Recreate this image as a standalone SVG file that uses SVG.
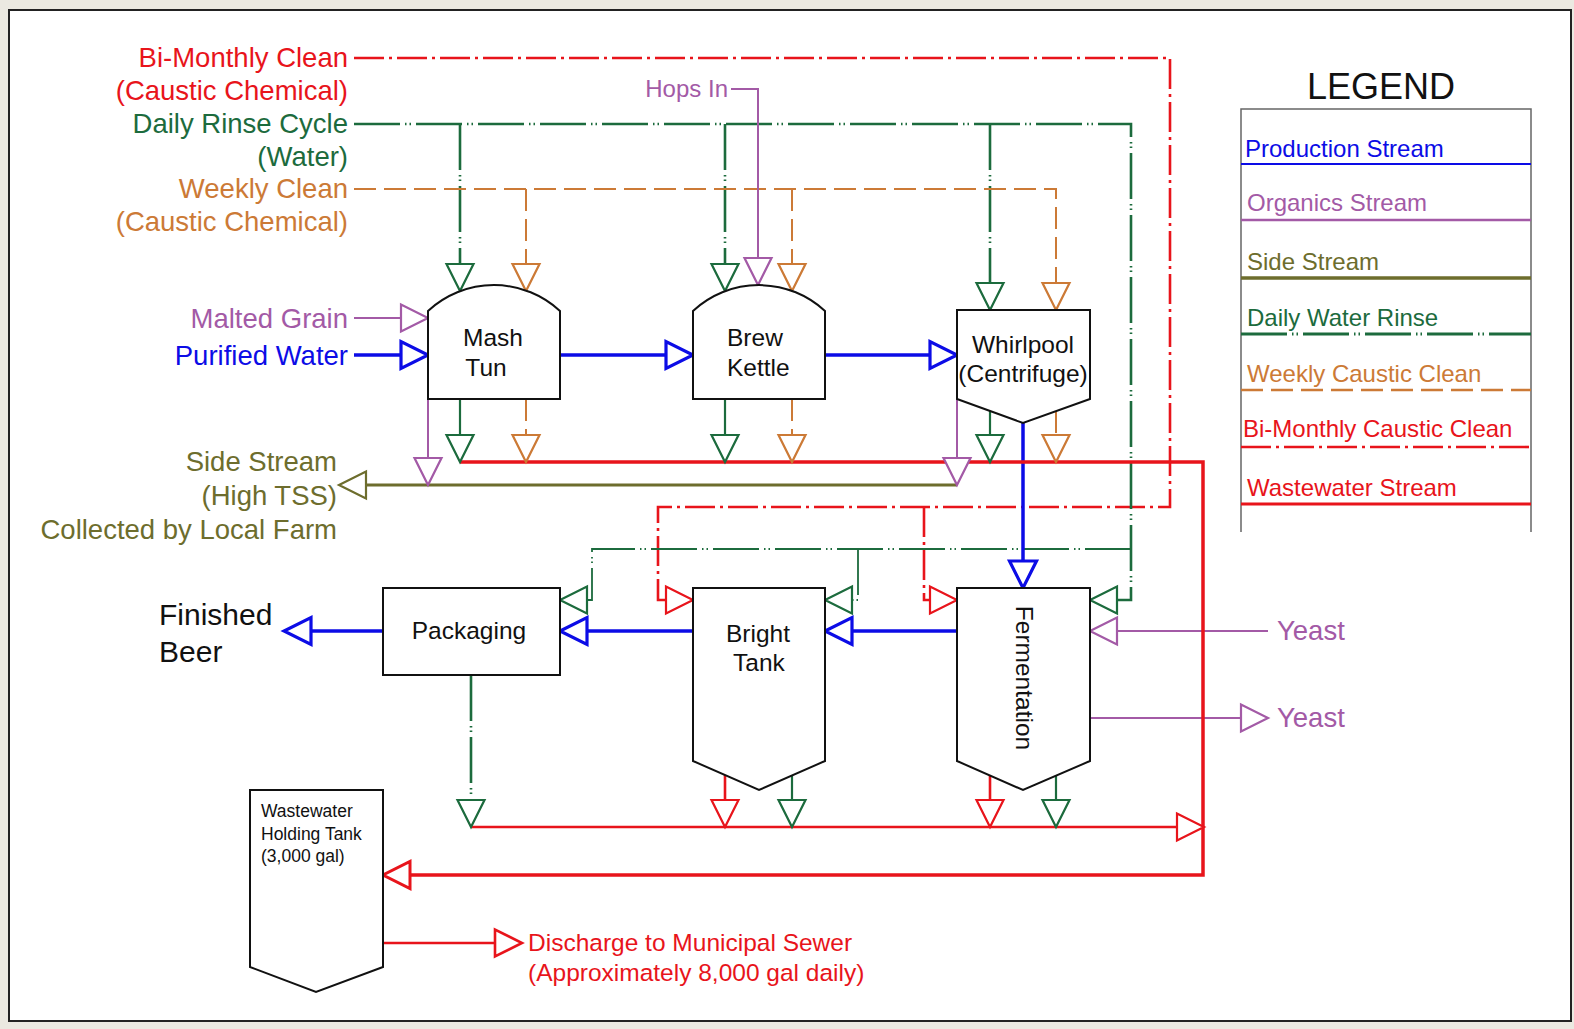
<svg xmlns="http://www.w3.org/2000/svg" xmlns:xlink="http://www.w3.org/1999/xlink" width="1574" height="1029" viewBox="0 0 1574 1029">
<style>
text{font-family:"Liberation Sans",Arial,sans-serif}
.ln{fill:none}
.blue{stroke:#0c0ce6;stroke-width:3.5}
.pur{stroke:#a35aa6;stroke-width:2}
.olv{stroke:#6d6d2d;stroke-width:3}
.grn{stroke:#1c6b3d;stroke-width:2.6;stroke-dasharray:46 5 1.5 3 1.5 5}
.grnt{stroke:#1c6b3d;stroke-width:1.8;stroke-dasharray:46 5 1.5 3 1.5 5}
.grns{stroke:#1c6b3d;stroke-width:2.2}
.org{stroke:#cc7a36;stroke-width:2;stroke-dasharray:22 8}
.rdd{stroke:#e8141b;stroke-width:2.6;stroke-dasharray:30 5 3 5}
.red{stroke:#e8141b;stroke-width:3.5}
.red2{stroke:#e8141b;stroke-width:2.6}
.a{fill:#fff;stroke-width:2.2;stroke-linejoin:miter}
.ab{fill:#fff;stroke:#0c0ce6;stroke-width:3.2}
.ag{stroke:#1c6b3d}.ao{stroke:#cc7a36}.ap{stroke:#a35aa6}.ar{stroke:#e8141b}.av{stroke:#6d6d2d}
.node{fill:#fff;stroke:#111;stroke-width:2}
.nt{font-size:24.5px;fill:#111}
.lbl{font-size:27.5px}
.cR{fill:#e8141b}.cG{fill:#1c6b3d}.cO{fill:#cc7a36}.cP{fill:#a35aa6}.cB{fill:#0c0ce6}.cV{fill:#6d6d2d}
.lg{font-size:24px}
</style>
<defs>
<path id="aD" d="M-13.5,-27 L13.5,-27 L0,0 Z"/>
<path id="aR" d="M-27,-13.5 L-27,13.5 L0,0 Z"/>
<path id="aL" d="M27,-13.5 L27,13.5 L0,0 Z"/>
</defs>
<rect x="0" y="0" width="1574" height="1029" fill="#ebe9e1"/>
<rect x="9" y="10" width="1562" height="1011" fill="#fff" stroke="#222" stroke-width="2"/>

<g id="connectors">
<path class="ln rdd" d="M354,58 H1170 V507 H658 V600 H666"/>
<path class="ln rdd" d="M924,507 V600 H930"/>
<path class="ln grn" d="M354,124 H1131 V600 H1117"/>
<path class="ln grn" d="M460,124 V264"/>
<path class="ln grn" d="M725,124 V264"/>
<path class="ln grn" d="M990,124 V283"/>
<path class="ln org" d="M354,189 H1056 V283"/>
<path class="ln org" d="M526,189 V264"/>
<path class="ln org" d="M792,189 V264"/>
<path class="ln grnt" d="M1131,549 H592 V600 H587"/>
<path class="ln grnt" d="M858,549 V600 H852"/>
<path class="ln pur" d="M731,89 H758 V258"/>
<path class="ln pur" d="M354,318 H401"/>
<path class="ln pur" d="M428,399 V458"/>
<path class="ln pur" d="M957,399 V458"/>
<path class="ln pur" d="M1268,631 H1117"/>
<path class="ln pur" d="M1090,718 H1241"/>
<path class="ln olv" d="M957,485 H366"/>
<path class="ln blue" d="M354,355 H401"/>
<path class="ln blue" d="M560,355 H666"/>
<path class="ln blue" d="M825,355 H930"/>
<path class="ln blue" d="M1023,423 V561"/>
<path class="ln blue" d="M957,631 H852"/>
<path class="ln blue" d="M693,631 H587"/>
<path class="ln blue" d="M383,631 H311"/>
<path class="ln grns" d="M460,399 V435"/>
<path class="ln org" d="M526,399 V435"/>
<path class="ln grns" d="M725,399 V435"/>
<path class="ln org" d="M792,399 V435"/>
<path class="ln grns" d="M990,411 V435"/>
<path class="ln org" d="M1056,411 V435"/>
<path class="ln grn" d="M471,675 V800"/>
<path class="ln red2" d="M725,775 V800"/>
<path class="ln grns" d="M792,775 V800"/>
<path class="ln red2" d="M990,775 V800"/>
<path class="ln grns" d="M1056,775 V800"/>
<path class="ln red2" d="M471,827 H1177"/>
<path class="ln red" d="M460,462 H1203 V875 H410"/>
<path class="ln red2" d="M383,943 H495"/>

<use href="#aD" class="a ag" x="460" y="291"/>
<use href="#aD" class="a ao" x="526" y="291"/>
<use href="#aD" class="a ag" x="725" y="291"/>
<use href="#aD" class="a ap" x="758" y="285"/>
<use href="#aD" class="a ao" x="792" y="291"/>
<use href="#aD" class="a ag" x="990" y="310"/>
<use href="#aD" class="a ao" x="1056" y="310"/>
<use href="#aR" class="a ap" x="428" y="318"/>
<use href="#aR" class="ab" x="428" y="355"/>
<use href="#aR" class="ab" x="693" y="355"/>
<use href="#aR" class="ab" x="957" y="355"/>
<use href="#aD" class="ab" x="1023" y="588"/>
<use href="#aL" class="ab" x="825" y="631"/>
<use href="#aL" class="ab" x="560" y="631"/>
<use href="#aL" class="ab" x="284" y="631"/>
<use href="#aD" class="a ag" x="460" y="462"/>
<use href="#aD" class="a ao" x="526" y="462"/>
<use href="#aD" class="a ag" x="725" y="462"/>
<use href="#aD" class="a ao" x="792" y="462"/>
<use href="#aD" class="a ag" x="990" y="462"/>
<use href="#aD" class="a ao" x="1056" y="462"/>
<use href="#aD" class="a ap" x="428" y="485"/>
<use href="#aD" class="a ap" x="957" y="485"/>
<use href="#aL" class="a av" x="339" y="485"/>
<use href="#aR" class="a ar" x="693" y="600"/>
<use href="#aR" class="a ar" x="957" y="600"/>
<use href="#aL" class="a ag" x="560" y="600"/>
<use href="#aL" class="a ag" x="825" y="600"/>
<use href="#aL" class="a ag" x="1090" y="600"/>
<use href="#aL" class="a ap" x="1090" y="631"/>
<use href="#aR" class="a ap" x="1268" y="718"/>
<use href="#aD" class="a ag" x="471" y="827"/>
<use href="#aD" class="a ar" x="725" y="827"/>
<use href="#aD" class="a ag" x="792" y="827"/>
<use href="#aD" class="a ar" x="990" y="827"/>
<use href="#aD" class="a ag" x="1056" y="827"/>
<use href="#aR" class="a ar" x="1204" y="827"/>
<use href="#aL" class="a ar" x="383" y="875" style="stroke-width:3"/>
<use href="#aR" class="a ar" x="522" y="943" style="stroke-width:2.6"/>
</g>

<g id="mash-tun">
<path class="node" d="M428,399 L428,311 A97,97 0 0 1 560,311 L560,399 Z"/>
<text class="nt" x="493" y="346" text-anchor="middle">Mash</text>
<text class="nt" x="486" y="376" text-anchor="middle">Tun</text>
</g>
<g id="brew-kettle">
<path class="node" d="M693,399 L693,311 A97,97 0 0 1 825,311 L825,399 Z"/>
<text class="nt" x="727" y="346">Brew</text>
<text class="nt" x="727" y="376">Kettle</text>
</g>
<g id="whirlpool">
<path class="node" d="M957,310 L1090,310 L1090,399 L1023,423 L957,399 Z"/>
<text class="nt" x="1023" y="353" text-anchor="middle">Whirlpool</text>
<text class="nt" x="1023" y="382" text-anchor="middle">(Centrifuge)</text>
</g>
<g id="fermentation">
<path class="node" d="M957,588 L1090,588 L1090,761 L1023,790 L957,761 Z"/>
<text class="nt" transform="translate(1016,678) rotate(90)" text-anchor="middle">Fermentation</text>
</g>
<g id="bright-tank">
<path class="node" d="M693,588 L825,588 L825,761 L759,790 L693,761 Z"/>
<text class="nt" x="758" y="642" text-anchor="middle">Bright</text>
<text class="nt" x="759" y="671" text-anchor="middle">Tank</text>
</g>
<g id="packaging">
<rect class="node" x="383" y="588" width="177" height="87"/>
<text class="nt" x="469" y="639" text-anchor="middle">Packaging</text>
</g>
<g id="holding-tank">
<path class="node" d="M250,790 L383,790 L383,967 L316,992 L250,967 Z"/>
<text x="261" y="817" style="font-size:17.5px;fill:#111">Wastewater</text>
<text x="261" y="840" style="font-size:17.5px;fill:#111">Holding Tank</text>
<text x="261" y="862" style="font-size:17.5px;fill:#111">(3,000 gal)</text>
</g>

<g id="labels" class="lbl">
<text class="cR" x="348" y="67" text-anchor="end">Bi-Monthly Clean</text>
<text class="cR" x="348" y="100" text-anchor="end">(Caustic Chemical)</text>
<text class="cG" x="348" y="133" text-anchor="end">Daily Rinse Cycle</text>
<text class="cG" x="348" y="166" text-anchor="end">(Water)</text>
<text class="cO" x="348" y="198" text-anchor="end">Weekly Clean</text>
<text class="cO" x="348" y="231" text-anchor="end">(Caustic Chemical)</text>
<text class="cP" x="348" y="328" text-anchor="end">Malted Grain</text>
<text class="cB" x="348" y="365" text-anchor="end">Purified Water</text>
<text class="cV" x="337" y="471" text-anchor="end">Side Stream</text>
<text class="cV" x="337" y="505" text-anchor="end">(High TSS)</text>
<text class="cV" x="337" y="539" text-anchor="end">Collected by Local Farm</text>
<text class="cP" x="728" y="97" text-anchor="end" style="font-size:24px">Hops In</text>
<text class="cP" x="1277" y="640">Yeast</text>
<text class="cP" x="1277" y="727">Yeast</text>
<text x="159" y="625" style="font-size:30px;fill:#111">Finished</text>
<text x="159" y="662" style="font-size:30px;fill:#111">Beer</text>
<text class="cR" x="528" y="951" style="font-size:24.5px">Discharge to Municipal Sewer</text>
<text class="cR" x="528" y="981" style="font-size:24.5px">(Approximately 8,000 gal daily)</text>
</g>

<g id="legend">
<text x="1381" y="99" text-anchor="middle" style="font-size:36px;fill:#111">LEGEND</text>
<path d="M1241,532 V109 H1531 V532" fill="none" stroke="#666" stroke-width="1.5"/>
<text class="lg cB" x="1245" y="157">Production Stream</text>
<line x1="1241" y1="164" x2="1531" y2="164" stroke="#0c0ce6" stroke-width="2"/>
<text class="lg cP" x="1247" y="211">Organics Stream</text>
<line x1="1241" y1="220" x2="1531" y2="220" stroke="#a35aa6" stroke-width="2.5"/>
<text class="lg cV" x="1247" y="270">Side Stream</text>
<line x1="1241" y1="278" x2="1531" y2="278" stroke="#6d6d2d" stroke-width="3.5"/>
<text class="lg cG" x="1247" y="326">Daily Water Rinse</text>
<line class="grn" x1="1241" y1="334" x2="1531" y2="334" style="stroke-width:3"/>
<text class="lg cO" x="1247" y="382">Weekly Caustic Clean</text>
<line class="org" x1="1241" y1="390" x2="1531" y2="390" style="stroke-width:2.5"/>
<text class="lg cR" x="1243" y="437">Bi-Monthly Caustic Clean</text>
<line class="rdd" x1="1241" y1="447" x2="1531" y2="447"/>
<text class="lg cR" x="1247" y="496">Wastewater Stream</text>
<line x1="1241" y1="504" x2="1531" y2="504" stroke="#e8141b" stroke-width="3"/>
</g>
</svg>
